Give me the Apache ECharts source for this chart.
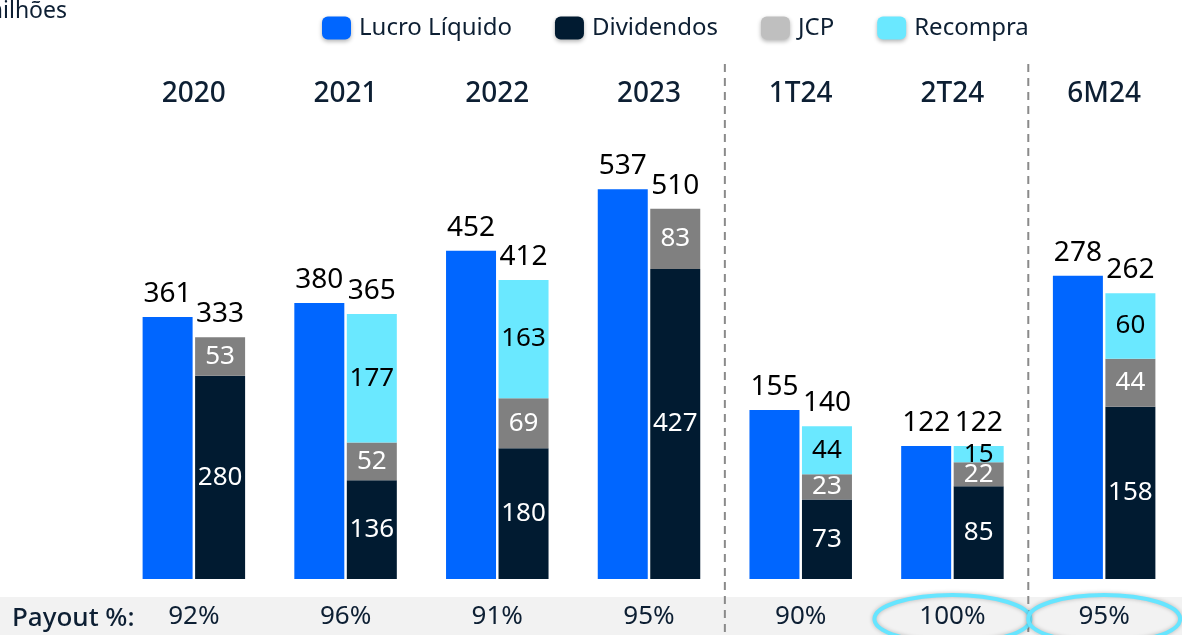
<!DOCTYPE html>
<html>
<head>
<meta charset="utf-8">
<script src="https://cdn.jsdelivr.net/npm/echarts@6/dist/echarts.min.js"></script>
<style>
  html, body { margin: 0; padding: 0; background: #fff; }
  #chart { width: 1182px; height: 635px; }
</style>
</head>
<body>
<div id="chart"></div>
<script>
// dados (R$ milhões)
const categories = ['2020', '2021', '2022', '2023', '1T24', '2T24', '6M24']
const lucro = [361, 380, 452, 537, 155, 122, 278]
const dividendos = [280, 136, 180, 427, 73, 85, 158]
const jcp = [53, 52, 69, 83, 23, 22, 44]
const recompra = [null, 177, 163, null, 44, 15, 60]
const totals = [333, 365, 412, 510, 140, 122, 262]
const payout = ['92%', '96%', '91%', '95%', '90%', '100%', '95%']
// anos usam uma escala, trimestres/semestre outra (como no slide)
const firstPeriod = 4

const FONT = 'Noto Sans'
const NAVY = '#0d1f33'

const chart = echarts.init(document.getElementById('chart'))

const topLabel = { show: true, position: 'top', color: '#000', fontSize: 28, fontFamily: FONT, distance: 9 }
const inLabel = { show: true, position: 'inside', color: '#fff', fontSize: 26, fontFamily: FONT }

// separa a série em anual / período
function part(arr, periods) {
  return arr.map((v, i) => ((i >= firstPeriod) === periods ? v : null))
}

function buildSeries(periods) {
  const axis = periods ? { xAxisIndex: 2, yAxisIndex: 1 } : { xAxisIndex: 0, yAxisIndex: 0 }
  const stack = periods ? 'distP' : 'distA'
  return [
    Object.assign({
      name: 'Lucro Líquido',
      type: 'bar',
      barWidth: 50,
      barGap: '5%',
      data: part(lucro, periods),
      itemStyle: { color: '#0066ff' },
      label: topLabel
    }, axis),
    Object.assign({
      name: 'Dividendos',
      type: 'bar',
      stack: stack,
      barWidth: 50,
      data: part(dividendos, periods),
      itemStyle: { color: '#011b31' },
      label: inLabel
    }, axis),
    Object.assign({
      name: 'JCP',
      type: 'bar',
      stack: stack,
      barWidth: 50,
      data: part(jcp, periods),
      itemStyle: { color: '#808080' },
      label: inLabel
    }, axis),
    Object.assign({
      name: 'Recompra',
      type: 'bar',
      stack: stack,
      barWidth: 50,
      data: part(recompra, periods),
      itemStyle: { color: '#6ae8ff' },
      label: Object.assign({}, inLabel, { color: '#000' })
    }, axis),
    Object.assign({
      name: 'Total',
      type: 'bar',
      stack: stack,
      barWidth: 50,
      data: part(totals.map(() => 0), periods),
      itemStyle: { color: 'transparent' },
      label: Object.assign({}, topLabel, {
        formatter: (p) => totals[p.dataIndex]
      })
    }, axis)
  ]
}

const option = {
  animation: false,
  textStyle: { fontFamily: FONT },
  grid: { left: 118, right: 2, top: 110, bottom: 56 },
  legend: {
    left: 317,
    top: 11,
    itemWidth: 29,
    itemHeight: 23,
    itemGap: 43,
    icon: 'roundRect',
    textStyle: { fontSize: 24, color: NAVY, fontFamily: FONT, padding: [0, 0, 0, 3] },
    itemStyle: { shadowColor: 'rgba(0,0,0,0.3)', shadowBlur: 4, shadowOffsetY: 2 },
    data: [
      { name: 'Lucro Líquido' },
      { name: 'Dividendos' },
      { name: 'JCP', itemStyle: { color: '#bfbfbf' } },
      { name: 'Recompra' }
    ]
  },
  xAxis: [{
    type: 'category',
    position: 'top',
    data: categories,
    axisLine: { show: false },
    axisTick: { show: false },
    axisLabel: { fontSize: 28, color: NAVY, margin: 2, fontFamily: FONT, fontWeight: 500 }
  }, {
    type: 'category',
    position: 'bottom',
    data: payout,
    axisLine: { show: false },
    axisTick: { show: false },
    axisLabel: { fontSize: 26, color: NAVY, margin: 25, fontFamily: FONT }
  }, {
    type: 'category',
    position: 'bottom',
    data: categories,
    show: false
  }],
  yAxis: [{
    type: 'value',
    min: 0,
    max: 646,
    show: false
  }, {
    type: 'value',
    min: 0,
    max: 430,
    show: false
  }],
  series: buildSeries(false).concat(buildSeries(true))
}

chart.setOption(option)

// separadores, faixa do payout e destaques
const cx = (i) => chart.convertToPixel({ xAxisIndex: 0 }, categories[i])
const sep1 = (cx(3) + cx(4)) / 2
const sep2 = (cx(5) + cx(6)) / 2

const dashLine = (x) => ({
  type: 'line',
  z: 5,
  shape: { x1: x, y1: 64, x2: x, y2: 635 },
  style: { stroke: '#8a8a8a', lineWidth: 2, lineDash: [8, 6] }
})

const ring = (x, rx) => ({
  type: 'ellipse',
  z: 6,
  shape: { cx: x, cy: 619, rx: rx, ry: 24 },
  style: { fill: 'none', stroke: '#66e5ff', lineWidth: 4, shadowColor: 'rgba(0,0,0,0.25)', shadowBlur: 4 }
})

chart.setOption({
  graphic: [
    {
      type: 'rect',
      z: -1,
      shape: { x: 0, y: 597, width: 1182, height: 38 },
      style: { fill: '#f2f2f2' }
    },
    {
      type: 'text',
      z: 5,
      style: { text: 'R$ milhões', x: 67, y: 11, align: 'right', verticalAlign: 'middle', fontSize: 23, fill: NAVY, fontFamily: FONT }
    },
    {
      type: 'text',
      z: 5,
      style: { text: 'Payout %:', x: 12, y: 619, verticalAlign: 'middle', fontSize: 26, fontWeight: 500, fill: NAVY, fontFamily: FONT }
    },
    dashLine(sep1),
    dashLine(sep2),
    ring(cx(5), 78),
    ring(cx(6), 76)
  ]
})
</script>
</body>
</html>
